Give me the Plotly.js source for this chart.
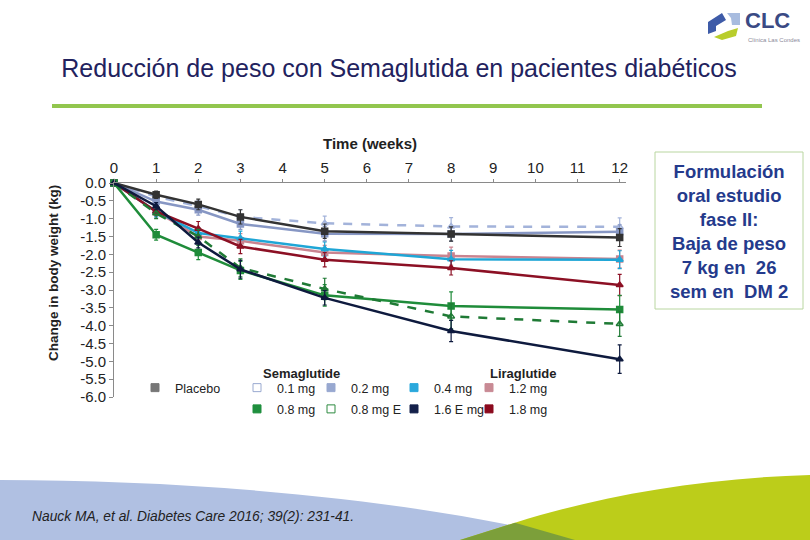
<!DOCTYPE html>
<html>
<head>
<meta charset="utf-8">
<script src="https://cdn.plot.ly/plotly-3.0.1.min.js"></script>
<style>html,body{margin:0;padding:0;background:#fff;}#chart{width:810px;height:540px;}</style>
</head>
<body>
<div id="chart"></div>
<script>
// ---- data ----
const weeks = [0, 1, 2, 3, 5, 8, 12];
const placebo  = [0, -0.33, -0.60, -0.95, -1.35, -1.43, -1.53];
const sema01   = [0, -0.38, -0.65, -0.95, -1.13, -1.22, -1.23];
const sema02   = [0, -0.52, -0.75, -1.15, -1.42, -1.43, -1.37];
const sema04   = [0, -0.80, -1.40, -1.55, -1.85, -2.14, -2.15];
const lira12   = [0, -0.80, -1.50, -1.62, -1.95, -2.05, -2.13];
const sema08   = [0, -1.45, -1.95, -2.45, -3.15, -3.45, -3.55];
const sema08E  = [0, -0.85, -1.50, -2.38, -2.97, -3.74, -3.95];
const sema16E  = [0, -0.65, -1.67, -2.42, -3.22, -4.15, -4.94];
const lira18   = [0, -0.80, -1.28, -1.78, -2.15, -2.38, -2.86];

const placeboErr = [0, 0.10, 0.15, 0.20, 0.20, 0.20, 0.25];
const sema01Err  = [0, 0.10, 0.15, 0.20, 0.20, 0.25, 0.25];
const sema02Err  = [0, 0.10, 0.15, 0.15, 0.20, 0.20, 0.20];
const sema04Err  = [0, 0.15, 0.15, 0.20, 0.20, 0.25, 0.25];
const lira12Err  = [0, 0.15, 0.20, 0.20, 0.20, 0.25, 0.25];
const sema08Err  = [0, 0.15, 0.20, 0.25, 0.30, 0.40, 0.40];
const sema08EErr = [0, 0.15, 0.20, 0.25, 0.30, 0.35, 0.35];
const sema16EErr = [0, 0.10, 0.15, 0.25, 0.20, 0.30, 0.40];
const lira18Err  = [0, 0.10, 0.20, 0.20, 0.20, 0.20, 0.30];

const seriesNames = ['Placebo', '0.1 mg', '0.2 mg', '0.4 mg', '1.2 mg', '0.8 mg', '0.8 mg E', '1.6 E mg', '1.8 mg'];
const xTickVals = [0,1,2,3,4,5,6,7,8,9,10,11,12];
const yTickVals = [0,-0.5,-1,-1.5,-2,-2.5,-3,-3.5,-4,-4.5,-5,-5.5,-6];
const yTickText = ['0.0','-0.5','-1.0','-1.5','-2.0','-2.5','-3.0','-3.5','-4.0','-4.5','-5.0','-5.5','-6.0'];

const titleText = 'Reducción de peso con Semaglutida en pacientes diabéticos';
const xTitle = 'Time (weeks)';
const yTitle = 'Change in body weight (kg)';
const groupHeads = ['Semaglutide', 'Liraglutide'];
const boxText = 'Formulación<br>oral estudio<br>fase II:<br>Baja de peso<br>7 kg en  26<br>sem en  DM 2';
const citation = 'Nauck MA, et al. Diabetes Care 2016; 39(2): 231-41.';

// ---- geometry helpers (plot area in px) ----
const L = 114, R = 626, T = 183, B = 397;
const px = v => (v - L) / (R - L);
const py = v => (B - v) / (B - T);
const FONT = 'Liberation Sans, Arial, sans-serif';

const seriesData = [placebo, sema01, sema02, sema04, lira12, sema08, sema08E, sema16E, lira18];
const seriesErr = [placeboErr, sema01Err, sema02Err, sema04Err, lira12Err, sema08Err, sema08EErr, sema16EErr, lira18Err];
const lineColors = ['#333333', '#a3b3da', '#8797c4', '#1fa6d6', '#c98490', '#1f8c3a', '#1f7a35', '#0e1a3e', '#8c1024'];
const dashes = ['solid', 'dash', 'solid', 'solid', 'solid', 'solid', 'dash', 'solid', 'solid'];
const symbols = ['square', 'triangle-up-open', 'square', 'triangle-up', 'square', 'square', 'triangle-up-open', 'triangle-up', 'triangle-up'];
const legColors = ['#777777', '#9aaad0', '#98a8d0', '#2aa8dc', '#c88a94', '#1f8f3e', '#2e8b40', '#14204a', '#8b0a1e'];
const legSymbols = ['square', 'square-open', 'square', 'square', 'square', 'square', 'square-open', 'square', 'square'];
const legIds = ['legend', 'legend2', 'legend3', 'legend4', 'legend5', 'legend2', 'legend3', 'legend4', 'legend5'];
const drawOrder = [4, 3, 1, 2, 0, 8, 5, 6, 7];

const traces = [];
drawOrder.forEach(i => {
  traces.push({
    x: weeks, y: seriesData[i], type: 'scatter', mode: 'lines+markers', name: seriesNames[i],
    showlegend: false, cliponaxis: false,
    line: {color: lineColors[i], width: 2.5, dash: dashes[i]},
    marker: {symbol: symbols[i], size: 6, color: lineColors[i], line: {color: lineColors[i], width: 1.5}},
    error_y: {type: 'data', array: seriesErr[i], visible: true, color: lineColors[i], thickness: 1.2, width: 2}
  });
});
// legend entries
seriesNames.forEach((n, i) => {
  traces.push({
    x: [null], y: [null], type: 'scatter', mode: 'markers', name: n, legend: legIds[i], legendgroup: 'g' + i,
    marker: {symbol: legSymbols[i], size: 8, color: legColors[i], line: {color: legColors[i], width: 1}},
    hoverinfo: 'skip'
  });
});

const legBase = {bgcolor: 'rgba(0,0,0,0)', borderwidth: 0, orientation: 'v', xanchor: 'left', yanchor: 'top',
  font: {family: FONT, size: 12.5, color: '#222'}, itemwidth: 30, tracegroupgap: 2};
const legX = [155, 257, 331, 414, 489];
const mkLeg = k => Object.assign({}, legBase, {x: px(legX[k] - 20), y: py(373)});

const layout = {
  width: 810, height: 540,
  margin: {l: L, r: 810 - R, t: T, b: 540 - B, pad: 0},
  paper_bgcolor: '#ffffff', plot_bgcolor: 'rgba(0,0,0,0)',
  showlegend: true,
  legend: mkLeg(0), legend2: mkLeg(1), legend3: mkLeg(2), legend4: mkLeg(3), legend5: mkLeg(4),
  title: {text: titleText, font: {family: FONT, size: 25, color: '#22225e'},
    xref: 'container', yref: 'container', x: 399 / 810, y: 1 - 68 / 540, xanchor: 'center', yanchor: 'middle'},
  xaxis: {range: [0, 12.15], side: 'top', tickvals: xTickVals, showgrid: false, zeroline: false,
    showline: true, linecolor: '#8a8a8a', linewidth: 1, ticks: 'outside', ticklen: 3, tickcolor: '#8a8a8a',
    tickfont: {family: FONT, size: 15, color: '#222'},
    title: {text: '<b>' + xTitle + '</b>', font: {family: FONT, size: 15, color: '#222'}, standoff: 5}},
  yaxis: {range: [-6, 0], tickvals: yTickVals, ticktext: yTickText, showgrid: false, zeroline: false,
    showline: true, linecolor: '#8a8a8a', linewidth: 1, ticks: 'outside', ticklen: 4, tickcolor: '#8a8a8a',
    tickfont: {family: FONT, size: 15, color: '#222'}},
  shapes: [
    {type: 'line', xref: 'paper', yref: 'paper', x0: px(52), x1: px(762), y0: py(106), y1: py(106),
      line: {color: '#92c64e', width: 4}},
    {type: 'rect', xref: 'paper', yref: 'paper', x0: px(655), x1: px(803), y0: py(152), y1: py(309),
      line: {color: '#b9d6a0', width: 1}},
    {type: 'path', xref: 'paper', yref: 'paper', line: {width: 0}, fillcolor: '#b0c0e2',
      path: `M ${px(0)} ${py(480)} C ${px(200)} ${py(480)} ${px(420)} ${py(500)} ${px(575)} ${py(540)} L ${px(0)} ${py(540)} Z`},
    {type: 'path', xref: 'paper', yref: 'paper', line: {width: 0}, fillcolor: '#bccd1a',
      path: `M ${px(460)} ${py(540)} L ${px(515)} ${py(522.7)} C ${px(600)} ${py(496)} ${px(700)} ${py(478)} ${px(810)} ${py(475)} L ${px(810)} ${py(540)} Z`},
    {type: 'path', xref: 'paper', yref: 'paper', line: {width: 0}, fillcolor: '#7c9f3a',
      path: `M ${px(460)} ${py(540)} L ${px(515)} ${py(522.7)} L ${px(575)} ${py(540)} Z`},
    {type: 'path', xref: 'paper', yref: 'paper', line: {width: 0}, fillcolor: '#3e5ba8',
      path: `M ${px(708)} ${py(22)} L ${px(722)} ${py(13)} L ${px(726)} ${py(20)} L ${px(716)} ${py(26)} L ${px(716)} ${py(31)} L ${px(708)} ${py(34)} Z`},
    {type: 'path', xref: 'paper', yref: 'paper', line: {width: 0}, fillcolor: '#a8bcdf',
      path: `M ${px(727)} ${py(13)} L ${px(740)} ${py(13)} L ${px(740)} ${py(25)} L ${px(732)} ${py(25)} L ${px(731)} ${py(18)} Z`},
    {type: 'path', xref: 'paper', yref: 'paper', line: {width: 0}, fillcolor: '#b8cd2c',
      path: `M ${px(714)} ${py(37)} L ${px(728)} ${py(31)} L ${px(738)} ${py(28)} L ${px(736)} ${py(36)} L ${px(722)} ${py(40)} Z`}
  ],
  annotations: [
    {xref: 'paper', yref: 'paper', x: px(53), y: py(273), text: '<b>' + yTitle + '</b>', showarrow: false, textangle: -90,
      font: {family: FONT, size: 13.5, color: '#222'}, xanchor: 'center', yanchor: 'middle'},
    {xref: 'paper', yref: 'paper', x: px(301), y: py(373), text: '<b>' + groupHeads[0] + '</b>', showarrow: false,
      font: {family: FONT, size: 13, color: '#222'}, xanchor: 'center', yanchor: 'middle'},
    {xref: 'paper', yref: 'paper', x: px(523), y: py(373), text: '<b>' + groupHeads[1] + '</b>', showarrow: false,
      font: {family: FONT, size: 13, color: '#222'}, xanchor: 'center', yanchor: 'middle'},
    {xref: 'paper', yref: 'paper', x: px(729), y: py(231), text: '<b>' + boxText + '</b>', showarrow: false,
      font: {family: FONT, size: 18.5, color: '#243a8c'}, xanchor: 'center', yanchor: 'middle', align: 'center'},
    {xref: 'paper', yref: 'paper', x: px(30), y: py(516), text: '<i>' + citation + '</i>', showarrow: false,
      font: {family: FONT, size: 13.8, color: '#222'}, xanchor: 'left', yanchor: 'middle'},
    {xref: 'paper', yref: 'paper', x: px(743), y: py(20), text: '<b>CLC</b>', showarrow: false,
      font: {family: FONT, size: 22, color: '#3a4a84'}, xanchor: 'left', yanchor: 'middle'},
    {xref: 'paper', yref: 'paper', x: px(746), y: py(39.5), text: 'Clínica Las Condes', showarrow: false,
      font: {family: FONT, size: 6, color: '#8a8a9a'}, xanchor: 'left', yanchor: 'middle'}
  ]
};

Plotly.newPlot('chart', traces, layout, {displayModeBar: false, staticPlot: true});
</script>
</body>
</html>
